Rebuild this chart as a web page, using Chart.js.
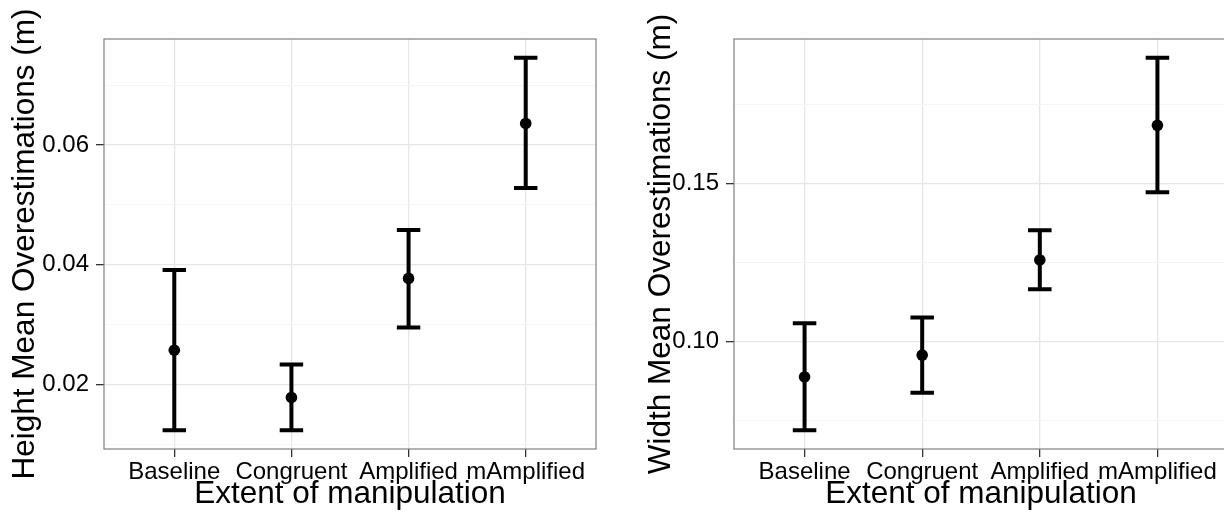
<!DOCTYPE html>
<html>
<head>
<meta charset="utf-8">
<script src="https://cdn.jsdelivr.net/npm/chart.js@4.4.1/dist/chart.umd.min.js"></script>
<style>
  html, body { margin: 0; padding: 0; background: #fff; overflow: hidden; }
  #wrap { position: relative; width: 1224px; height: 515px; overflow: hidden; }
  canvas { position: absolute; top: 0; }
</style>
</head>
<body>
<div id="wrap">
  <canvas id="heightChart" width="612" height="515" style="left:0"></canvas>
  <canvas id="widthChart" width="632" height="515" style="left:612px"></canvas>
</div>
<script>
// Categories on the x axis
const categories = ['Baseline', 'Congruent', 'Amplified', 'mAmplified'];

// Height panel: mean and error bar ends
const heightMean  = [0.0257, 0.0178, 0.0377, 0.0636];
const heightLower = [0.0123, 0.0123, 0.0295, 0.0528];
const heightUpper = [0.0391, 0.0233, 0.0458, 0.0746];

// Width panel: mean and error bar ends
const widthMean  = [0.0888, 0.0957, 0.1258, 0.1684];
const widthLower = [0.0719, 0.0838, 0.1165, 0.1472];
const widthUpper = [0.1058, 0.1076, 0.1352, 0.1898];

// Tick values (major labelled, minor only gridlines)
const heightMajorTicks = [0.02, 0.04, 0.06];
const heightMinorTicks = [0.01, 0.03, 0.05, 0.07];
const widthMajorTicks  = [0.10, 0.15];
const widthMinorTicks  = [0.075, 0.125, 0.175];

const FONT = '"Liberation Sans", Arial, Helvetica, sans-serif';
const CAP = 0.1; // half width of error bar caps, in category units

// Panel border drawn on top, like ggplot's theme_bw
const panelBorder = {
  id: 'panelBorder',
  afterDraw(chart) {
    const { ctx, chartArea: a } = chart;
    ctx.save();
    ctx.strokeStyle = '#7f7f7f';
    ctx.lineWidth = 1.2;
    ctx.strokeRect(a.left, a.top, a.right - a.left, a.bottom - a.top);
    ctx.restore();
  }
};

// Build the path of the error bars: top cap, stem, bottom cap, with gaps between
function errorPath(lower, upper) {
  const pts = [];
  lower.forEach((lo, i) => {
    const x = i + 1;
    const hi = upper[i];
    pts.push({ x: x - CAP, y: hi }, { x: x + CAP, y: hi }, { x: x, y: null });
    pts.push({ x: x, y: hi }, { x: x, y: lo }, { x: x, y: null });
    pts.push({ x: x - CAP, y: lo }, { x: x + CAP, y: lo }, { x: x, y: null });
  });
  return pts;
}

function makeChart(id, opts) {
  const { mean, lower, upper, major, minor, title, axisWidth, padLeft, titlePad } = opts;
  const allTicks = major.concat(minor).sort((a, b) => a - b);
  const isMajor = v => major.some(m => Math.abs(m - v) < 1e-9);

  // ggplot style 5% expansion around the data
  const lo = Math.min(...lower), hi = Math.max(...upper);
  const pad = (hi - lo) * 0.05;

  return new Chart(document.getElementById(id).getContext('2d'), {
    type: 'scatter',
    data: {
      datasets: [
        {
          label: 'mean',
          data: mean.map((v, i) => ({ x: i + 1, y: v })),
          pointRadius: 5.8,
          pointHoverRadius: 5.8,
          pointBackgroundColor: '#000',
          pointBorderWidth: 0,
          order: 0
        },
        {
          label: 'error',
          type: 'line',
          data: errorPath(lower, upper),
          showLine: true,
          spanGaps: false,
          borderColor: '#000',
          borderWidth: 4,
          borderCapStyle: 'butt',
          pointRadius: 0,
          fill: false,
          order: 1
        }
      ]
    },
    options: {
      responsive: false,
      animation: false,
      devicePixelRatio: 1,
      layout: { padding: { top: 39, right: 16, left: padLeft, bottom: 0 } },
      plugins: { legend: { display: false }, tooltip: { enabled: false } },
      scales: {
        x: {
          type: 'linear',
          min: 0.4,
          max: 4.6,
          afterBuildTicks: s => { s.ticks = categories.map((c, i) => ({ value: i + 1 })); },
          afterFit: s => { s.height = 66; },
          ticks: {
            callback: v => categories[Math.round(v) - 1],
            color: '#000',
            font: { family: FONT, size: 24 },
            padding: 1,
            maxRotation: 0,
            autoSkip: false
          },
          grid: {
            color: '#e6e6e6',
            lineWidth: 1.3,
            tickLength: 8,
            tickColor: '#333',
            tickWidth: 1.3
          },
          border: { display: false },
          title: {
            display: true,
            text: 'Extent of manipulation',
            color: '#000',
            font: { family: FONT, size: 31.5 },
            padding: { top: 0, bottom: 2 }
          }
        },
        y: {
          type: 'linear',
          min: lo - pad,
          max: hi + pad,
          afterBuildTicks: s => { s.ticks = allTicks.map(v => ({ value: v })); },
          afterFit: s => { s.width = axisWidth; },
          ticks: {
            callback: v => (isMajor(v) ? v.toFixed(2) : ''),
            color: '#000',
            font: { family: FONT, size: 24 },
            padding: 7
          },
          grid: {
            color: c => (isMajor(c.tick.value) ? '#e6e6e6' : '#f5f5f5'),
            lineWidth: c => (isMajor(c.tick.value) ? 1.3 : 1),
            tickLength: 8,
            tickColor: c => (isMajor(c.tick.value) ? '#333' : 'rgba(0,0,0,0)'),
            tickWidth: 1.3
          },
          border: { display: false },
          title: {
            display: true,
            text: title,
            color: '#000',
            font: { family: FONT, size: 31.5 },
            padding: { top: titlePad, bottom: 0 }
          }
        }
      }
    },
    plugins: [panelBorder]
  });
}

makeChart('heightChart', {
  mean: heightMean, lower: heightLower, upper: heightUpper,
  major: heightMajorTicks, minor: heightMinorTicks,
  title: 'Height Mean Overestimations (m)',
  axisWidth: 104, padLeft: 0, titlePad: 6
});

makeChart('widthChart', {
  mean: widthMean, lower: widthLower, upper: widthUpper,
  major: widthMajorTicks, minor: widthMinorTicks,
  title: 'Width Mean Overestimations (m)',
  axisWidth: 122, padLeft: 0, titlePad: 30
});
</script>
</body>
</html>
